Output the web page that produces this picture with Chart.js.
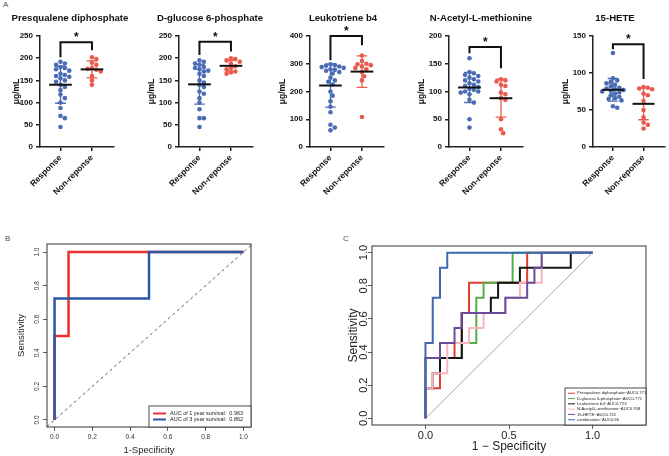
<!DOCTYPE html>
<html>
<head>
<meta charset="utf-8">
<script src="https://cdn.jsdelivr.net/npm/chart.js@4.4.0/dist/chart.umd.min.js"></script>
<style>
  body { margin: 0; background: #fff; width: 669px; height: 456px; position: relative; overflow: hidden; font-family: "Liberation Sans", Arial, sans-serif; }
  canvas { position: absolute; }
  .panel { position: absolute; font-size: 8px; color: #555; }
</style>
</head>
<body>
<div class="panel" style="left:3px;top:0px">A</div>
<div class="panel" style="left:5px;top:234px">B</div>
<div class="panel" style="left:343px;top:234px">C</div>

<script>
// ---- panel A: scatter dot plots ----
const groups = ['Response', 'Non-reponse'];
const titles = ['Presqualene diphosphate', 'D-glucose 6-phosphate', 'Leukotriene b4', 'N-Acetyl-L-methionine', '15-HETE'];
const yMax  = [250, 250, 400, 200, 150];
const yStep = [50, 50, 100, 50, 50];

const presqResp = [192, 188, 185, 180, 178, 175, 172, 165, 162, 160, 158, 155, 150, 147, 140, 135, 128, 118, 110, 100, 88, 70, 65, 45];
const presqNon  = [202, 198, 190, 185, 178, 176, 174, 170, 160, 150, 140];
const glucResp  = [195, 192, 188, 185, 180, 178, 175, 172, 170, 165, 160, 150, 145, 140, 135, 125, 120, 110, 100, 85, 65, 65, 45];
const glucNon   = [200, 198, 195, 192, 188, 182, 178, 175, 170, 168, 165];
const leukResp  = [298, 295, 293, 290, 288, 285, 280, 278, 275, 270, 265, 250, 240, 235, 225, 200, 185, 165, 145, 125, 80, 70, 60];
const leukNon   = [330, 310, 300, 298, 295, 290, 285, 280, 270, 255, 240, 108];
const nacResp   = [160, 135, 133, 130, 128, 125, 122, 120, 118, 115, 112, 110, 108, 105, 103, 100, 100, 98, 95, 85, 80, 50, 35];
const nacNon    = [122, 120, 118, 112, 110, 98, 95, 88, 85, 50, 32, 25];
const heteResp  = [127, 93, 90, 88, 86, 84, 82, 80, 79, 78, 77, 76, 75, 74, 72, 70, 68, 66, 65, 63, 55, 53];
const heteNon   = [81, 80, 79, 78, 72, 70, 62, 50, 40, 33, 30, 25];

const respData = [presqResp, glucResp, leukResp, nacResp, heteResp];
const nonData  = [presqNon, glucNon, leukNon, nacNon, heteNon];
// significance bracket: [left leg end, top, right leg end]
const brackets = [[202, 236, 218], [207, 237, 215], [313, 400, 367], [169, 180, 142], [132, 139, 92]];

// ---- panel B: survival ROC ----
const survFpr1 = [0, 0, 0.074, 0.074, 1];
const survTpr1 = [0, 0.5, 0.5, 1, 1];
const survFpr3 = [0, 0, 0.5, 0.5, 1];
const survTpr3 = [0, 0.724, 0.724, 1, 1];
const survLabels = ['AUC of 1 year survival:  0.963', 'AUC of 3 year survival:  0.862'];
const rocTicks = [0, 0.2, 0.4, 0.6, 0.8, 1.0];

// ---- panel C: metabolite ROC (true positives after each false positive) ----
const nNeg = 23, nPos = 11;
const tpPresq = [2, 2, 4, 4, 5, 7, 9, 9, 9, 9, 9, 9, 9, 9, 11, 11, 11, 11, 11, 11, 11, 11, 11];
const tpGluc  = [4, 4, 4, 4, 4, 5, 5, 8, 9, 9, 9, 9, 11, 11, 11, 11, 11, 11, 11, 11, 11, 11, 11];
const tpLeuk  = [2, 3, 4, 4, 4, 7, 7, 7, 7, 8, 9, 9, 9, 10, 10, 10, 10, 10, 10, 10, 11, 11, 11];
const tpNac   = [2, 3, 3, 5, 5, 5, 6, 6, 7, 7, 7, 8, 8, 9, 9, 9, 11, 11, 11, 11, 11, 11, 11];
const tpHete  = [4, 4, 5, 5, 6, 7, 7, 7, 7, 7, 7, 8, 8, 8, 9, 10, 11, 11, 11, 11, 11, 11, 11];
const tpComb  = [5, 8, 10, 11, 11, 11, 11, 11, 11, 11, 11, 11, 11, 11, 11, 11, 11, 11, 11, 11, 11, 11, 11];
const rocLabels = ['Presqualene diphosphate\u2212AUC0.771', 'D-glucose 6-phosphate\u2212AUC0.771', 'Leukotriene b4\u2212AUC0.723',
                   'N-Acetyl-L-methionine\u2212AUC0.708', '15-HETE\u2212AUC0.732', 'combination\u2212AUC0.96'];
const cTicksX = [0, 0.5, 1];

const BLUE = '#4b6db4', RED = '#ea5b4e';
const rocColors = ['#e63a2e', '#55ad45', '#151515', '#f5b6c1', '#6b4c9a', '#3d68b2'];
const FONT = '"Liberation Sans", Arial, sans-serif';

Chart.defaults.font.family = FONT;
Chart.defaults.color = '#222';
const base = { animation: false, responsive: false, devicePixelRatio: 1, events: [] };

function makeCanvas(left, top, w, h){
  const c = document.createElement('canvas');
  c.width = w; c.height = h;
  c.style.left = left + 'px'; c.style.top = top + 'px';
  c.style.width = w + 'px'; c.style.height = h + 'px';
  document.body.appendChild(c);
  return c;
}

// simple beeswarm so dots at similar values spread sideways
function swarm(vals, center, yPx){
  const d = 4.4, xPx = 31.5;
  const placed = [];
  const out = new Array(vals.length);
  const order = vals.map((v,i)=>i).sort((a,b)=> vals[b]-vals[a]);
  order.forEach(i=>{
    const py = vals[i]*yPx;
    for(let k=0;k<30;k++){
      const off = (k%2 ? 1 : -1) * Math.ceil(k/2) * d * 0.5;
      if(placed.every(p => Math.hypot(p.x-off, p.y-py) >= d*0.95)){
        placed.push({x:off, y:py});
        out[i] = {x: center + off/xPx, y: vals[i]};
        break;
      }
    }
  });
  return out;
}

const summaryPlugin = {
  id: 'summary',
  afterDatasetsDraw(chart, args, o){
    const {ctx, scales:{x, y}, chartArea: a} = chart;
    ctx.save();
    o.groups.forEach((vals, g)=>{
      const m = vals.reduce((a,b)=>a+b,0)/vals.length;
      const sd = Math.sqrt(vals.reduce((a,b)=>a+(b-m)**2,0)/(vals.length-1));
      const cx = x.getPixelForValue(g);
      const yt = y.getPixelForValue(m+sd), yb = y.getPixelForValue(m-sd);
      const cl = x.getPixelForValue(g-0.17), cr = x.getPixelForValue(g+0.17);
      ctx.strokeStyle = o.colors[g]; ctx.lineWidth = 1.3;
      ctx.beginPath();
      ctx.moveTo(cx, yt); ctx.lineTo(cx, yb);
      ctx.moveTo(cl, yt); ctx.lineTo(cr, yt);
      ctx.moveTo(cl, yb); ctx.lineTo(cr, yb);
      ctx.stroke();
      const ym = y.getPixelForValue(m);
      ctx.strokeStyle = '#111'; ctx.lineWidth = 2;
      ctx.beginPath();
      ctx.moveTo(x.getPixelForValue(g-0.36), ym); ctx.lineTo(x.getPixelForValue(g+0.36), ym);
      ctx.stroke();
    });
    ctx.fillStyle = '#111'; ctx.font = 'bold 12px ' + FONT;
    ctx.textAlign = 'center'; ctx.textBaseline = 'alphabetic';
    ctx.fillText('*', x.getPixelForValue(0.5), y.getPixelForValue(o.starTop) - 1);
    // plot title, centred like the original figure
    ctx.font = 'bold 9.6px ' + FONT; ctx.textBaseline = 'middle';
    ctx.fillText(o.title, a.left + o.titleDx, 18);
    ctx.restore();
  }
};

// canvas placement for the five dot plots (wide enough for the titles)
const dotLayout = [
  {left: 0,   width: 140, titleDx: 30, yTitlePad: 12},
  {left: 139, width: 142, titleDx: 31, yTitlePad: 8},
  {left: 270, width: 146, titleDx: 33, yTitlePad: 8},
  {left: 409, width: 144, titleDx: 32, yTitlePad: 8},
  {left: 553, width: 116, titleDx: 22, yTitlePad: 8}
];

const axisStyle = {
  grid: { drawOnChartArea: false, tickLength: 4, color: '#222', lineWidth: 1.5 },
  border: { color: '#222', width: 1.5 }
};

function dotChart(k){
  const L = dotLayout[k];
  const canvas = makeCanvas(L.left, 0, L.width, 202);
  const yPx = 111 / yMax[k];
  const br = brackets[k];
  new Chart(canvas, {
    type: 'scatter',
    data: { datasets: [
      { data: swarm(respData[k], 0, yPx), backgroundColor: BLUE, pointRadius: 2.3, borderWidth: 0 },
      { data: swarm(nonData[k], 1, yPx), backgroundColor: RED, pointRadius: 2.3, borderWidth: 0 },
      { data: [{x:0,y:br[0]},{x:0,y:br[1]},{x:1,y:br[1]},{x:1,y:br[2]}], showLine: true, clip: false,
        borderColor: '#111', borderWidth: 2, pointRadius: 0 }
    ]},
    options: {
      ...base,
      layout: { padding: { left: 0, right: L.width - 114, top: 36, bottom: 0 } },
      plugins: {
        legend: { display: false }, tooltip: { enabled: false },
        summary: { groups: [respData[k], nonData[k]], colors: [BLUE, RED], starTop: br[1], title: titles[k], titleDx: L.titleDx }
      },
      scales: {
        x: {
          type: 'linear', min: -0.65, max: 1.7,
          afterBuildTicks: s => { s.ticks = [{value: 0}, {value: 1}]; },
          afterFit: s => { s.height = 55; },
          ticks: { callback: v => groups[v], minRotation: 45, maxRotation: 45, color: '#111', font: { size: 8.5, weight: 'bold' }, padding: 2 },
          ...axisStyle
        },
        y: {
          min: 0, max: yMax[k],
          afterFit: s => { s.width = 40; },
          ticks: { stepSize: yStep[k], color: '#111', font: { size: 8, weight: 'bold' }, padding: 3 },
          title: { display: true, text: 'μg/mL', color: '#111', font: { size: 8.5, weight: 'bold' }, padding: { top: L.yTitlePad, bottom: 0 } },
          ...axisStyle
        }
      }
    },
    plugins: [summaryPlugin]
  });
}
for(let k=0;k<5;k++) dotChart(k);

// ---- shared ROC helpers ----
const zip = (xs, ys) => xs.map((x,i)=>({x, y: ys[i]}));
function stepPoints(tp){
  const pts = [{x:0, y:0}];
  tp.forEach((v,i)=>{ pts.push({x: i/nNeg, y: v/nPos}); pts.push({x: (i+1)/nNeg, y: v/nPos}); });
  return pts;
}

const boxPlugin = {
  id: 'box',
  afterDatasetsDraw(chart){
    const {ctx, chartArea: a} = chart;
    ctx.save(); ctx.strokeStyle = '#333'; ctx.lineWidth = 1;
    ctx.strokeRect(a.left, a.top, a.right-a.left, a.bottom-a.top);
    ctx.restore();
  }
};

const rotYTicks = {
  id: 'rotYTicks',
  afterDraw(chart, args, o){
    const {ctx, scales:{y}, chartArea: a} = chart;
    ctx.save();
    ctx.font = o.size + 'px ' + FONT; ctx.fillStyle = o.color;
    ctx.textAlign = 'center'; ctx.textBaseline = 'middle';
    o.values.forEach(v=>{
      ctx.save();
      ctx.translate(a.left - o.offset, y.getPixelForValue(v));
      ctx.rotate(-Math.PI/2);
      ctx.fillText(v.toFixed(1), 0, 0);
      ctx.restore();
    });
    ctx.restore();
  }
};

const rocLegend = {
  id: 'rocLegend',
  afterDraw(chart, args, o){
    const {ctx, chartArea: a} = chart;
    const h = o.rowH*o.labels.length + o.pad*2;
    const left = a.right - o.width, top = a.bottom - h;
    ctx.save();
    ctx.fillStyle = '#fff'; ctx.fillRect(left, top, o.width, h);
    ctx.strokeStyle = '#222'; ctx.lineWidth = 0.8; ctx.strokeRect(left, top, o.width, h);
    ctx.beginPath(); ctx.rect(left, top, o.width, h); ctx.clip();
    ctx.font = o.size + 'px ' + FONT; ctx.textBaseline = 'middle'; ctx.textAlign = 'left';
    o.labels.forEach((t,i)=>{
      const yy = top + o.pad + o.rowH*(i+0.5);
      ctx.strokeStyle = o.colors[i]; ctx.lineWidth = o.lineW;
      ctx.beginPath(); ctx.moveTo(left+o.x0, yy); ctx.lineTo(left+o.x1, yy); ctx.stroke();
      ctx.fillStyle = '#222'; ctx.fillText(t, left+o.tx, yy);
    });
    ctx.restore();
  }
};

const rocGrid = { drawOnChartArea: false, tickLength: 4, color: '#333', lineWidth: 0.8 };

// ---- panel B ----
new Chart(makeCanvas(0, 232, 270, 224), {
  type: 'scatter',
  data: { datasets: [
    { data: zip(survFpr3, survTpr3), showLine: true, borderColor: '#2b56a6', borderWidth: 2.5, pointRadius: 0, order: 1 },
    { data: zip(survFpr1, survTpr1), showLine: true, borderColor: '#e8302e', borderWidth: 2.5, pointRadius: 0, order: 2 },
    { data: [{x:-0.04,y:-0.04},{x:1.04,y:1.04}], showLine: true, borderColor: '#333', borderWidth: 0.8, borderDash: [3,3], pointRadius: 0, order: 3 }
  ]},
  options: {
    ...base,
    layout: { padding: { left: 0, right: 19, top: 12, bottom: 0 } },
    plugins: {
      legend: { display: false }, tooltip: { enabled: false },
      rotYTicks: { values: rocTicks, size: 6.5, color: '#333', offset: 10 },
      rocLegend: { labels: survLabels, colors: ['#e8302e', '#2b56a6'], width: 102, rowH: 6, pad: 4.5, x0: 4, x1: 17, tx: 21, size: 5.5, lineW: 2 }
    },
    scales: {
      x: {
        type: 'linear', min: -0.04, max: 1.04,
        afterBuildTicks: s => { s.ticks = rocTicks.map(v=>({value: v})); },
        afterFit: s => { s.height = 29; },
        ticks: { callback: v => v.toFixed(1), color: '#333', font: { size: 6.5 }, padding: 2, maxRotation: 0 },
        title: { display: true, text: '1-Specificity', color: '#222', font: { size: 9.5 }, padding: { top: 0, bottom: 0 } },
        grid: rocGrid, border: { display: false }
      },
      y: {
        min: -0.042, max: 1.048,
        afterBuildTicks: s => { s.ticks = rocTicks.map(v=>({value: v})); },
        afterFit: s => { s.width = 47; },
        ticks: { display: false },
        title: { display: true, text: 'Sensitivity', color: '#222', font: { size: 9.5 }, padding: { top: 16, bottom: 0 } },
        grid: rocGrid, border: { display: false }
      }
    }
  },
  plugins: [boxPlugin, rotYTicks, rocLegend]
});

// ---- panel C ----
const cCurves = [tpPresq, tpGluc, tpLeuk, tpNac, tpHete, tpComb];
new Chart(makeCanvas(340, 232, 329, 224), {
  type: 'scatter',
  data: { datasets: [
    { data: [{x:0,y:0},{x:1,y:1}], showLine: true, borderColor: '#a8a8a8', borderWidth: 1, pointRadius: 0, order: 10 },
    ...cCurves.map((tp,i)=>({ data: stepPoints(tp), showLine: true, borderColor: rocColors[i], borderWidth: 2, pointRadius: 0, order: 6-i }))
  ]},
  options: {
    ...base,
    layout: { padding: { left: 0, right: 23, top: 14, bottom: 0 } },
    plugins: {
      legend: { display: false }, tooltip: { enabled: false },
      rotYTicks: { values: rocTicks, size: 11, color: '#222', offset: 8 },
      rocLegend: { labels: rocLabels, colors: rocColors, width: 81, rowH: 5.3, pad: 2.6, x0: 3, x1: 10, tx: 12, size: 4.2, lineW: 1 }
    },
    scales: {
      x: {
        type: 'linear', min: -0.32, max: 1.32,
        afterBuildTicks: s => { s.ticks = cTicksX.map(v=>({value: v})); },
        afterFit: s => { s.height = 31; },
        ticks: { callback: v => v.toFixed(1), color: '#222', font: { size: 11 }, padding: 0, maxRotation: 0 },
        title: { display: true, text: '1 \u2212 Specificity', color: '#222', font: { size: 12 }, padding: { top: 0, bottom: 2 } },
        grid: rocGrid, border: { display: false }
      },
      y: {
        min: -0.04, max: 1.04,
        afterBuildTicks: s => { s.ticks = rocTicks.map(v=>({value: v})); },
        afterFit: s => { s.width = 32; },
        ticks: { display: false },
        title: { display: true, text: 'Sensitivity', color: '#222', font: { size: 12 }, padding: { top: 6, bottom: 0 } },
        grid: rocGrid, border: { display: false }
      }
    }
  },
  plugins: [boxPlugin, rotYTicks, rocLegend]
});
</script>
</body>
</html>
